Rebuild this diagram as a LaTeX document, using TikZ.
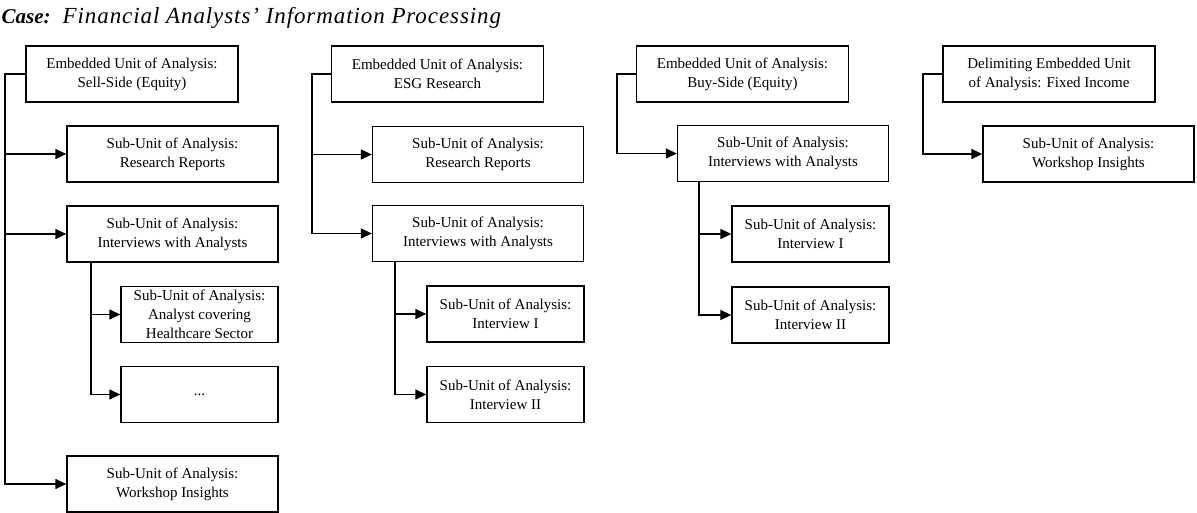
\documentclass[tikz,border=0pt]{standalone}
\usepackage{fontspec}
\setmainfont{Liberation Serif}
\usetikzlibrary{arrows.meta}
\begin{document}
\begin{tikzpicture}[x=1pt, y=-1pt, line width=1.3pt,
  unit/.style = {draw, rectangle, minimum width=212pt, minimum height=56pt, align=center, font=\fontsize{15}{19}\selectfont},
  sub/.style = {unit, minimum width=211pt},
  leaf/.style = {unit, minimum width=157pt},
  arr/.style = {-{Triangle[length=11pt, width=10pt]}}]
  \useasboundingbox (0,0) rectangle (1197,513);
  \node[anchor=base west, inner sep=0pt, font=\itshape] (title) at (1,24) {{\fontsize{21}{24}\selectfont\bfseries Case:}\hspace{12pt}{\fontsize{23}{26}\selectfont\addfontfeatures{LetterSpace=4}Financial Analysts’ Information Processing}};
  % sell-side
  \node[unit] (ss) at (132,74) {Embedded Unit of Analysis:\\Sell-Side (Equity)};
  \node[sub] (ss-rr) at (172.5,154) {Sub-Unit of Analysis:\\Research Reports};
  \node[sub] (ss-iv) at (172.5,234) {Sub-Unit of Analysis:\\Interviews with Analysts};
  \node[leaf] (ss-hc) at (199.5,314.5) {Sub-Unit of Analysis:\\Analyst covering\\Healthcare Sector};
  \node[leaf] (ss-dots) at (199.5,394.5) {...};
  \node[sub] (ss-ws) at (172.5,484) {Sub-Unit of Analysis:\\Workshop Insights};
  \coordinate (ss-t) at (5,0);
  \coordinate (ss-ivt) at (91,0);
  \draw[arr] (ss.west) -- (ss.west -| ss-t) |- (ss-ws.west);
  \draw[arr] (ss-t |- ss-rr.west) -- (ss-rr.west);
  \draw[arr] (ss-t |- ss-iv.west) -- (ss-iv.west);
  \draw[arr] (ss-iv.south -| ss-ivt) |- (ss-dots.west);
  \draw[arr] (ss-ivt |- ss-hc.west) -- (ss-hc.west);
  % esg
  \node[unit] (esg) at (437.5,74) {Embedded Unit of Analysis:\\ESG Research};
  \node[sub] (esg-rr) at (478,154.5) {Sub-Unit of Analysis:\\Research Reports};
  \node[sub] (esg-iv) at (478,233.5) {Sub-Unit of Analysis:\\Interviews with Analysts};
  \node[leaf] (esg-i1) at (505.5,314) {Sub-Unit of Analysis:\\Interview I};
  \node[leaf] (esg-i2) at (505.5,394.5) {Sub-Unit of Analysis:\\Interview II};
  \coordinate (esg-t) at (312,0);
  \coordinate (esg-ivt) at (395,0);
  \draw[arr] (esg.west) -- (esg.west -| esg-t) |- (esg-iv.west);
  \draw[arr] (esg-t |- esg-rr.west) -- (esg-rr.west);
  \draw[arr] (esg-iv.south -| esg-ivt) |- (esg-i2.west);
  \draw[arr] (esg-ivt |- esg-i1.west) -- (esg-i1.west);
  % buy-side
  \node[unit] (bs) at (742.5,74) {Embedded Unit of Analysis:\\Buy-Side (Equity)};
  \node[sub] (bs-iv) at (783,153.5) {Sub-Unit of Analysis:\\Interviews with Analysts};
  \node[leaf] (bs-i1) at (810.5,234) {Sub-Unit of Analysis:\\Interview I};
  \node[leaf] (bs-i2) at (810.5,315) {Sub-Unit of Analysis:\\Interview II};
  \coordinate (bs-t) at (617,0);
  \coordinate (bs-ivt) at (699,0);
  \draw[arr] (bs.west) -- (bs.west -| bs-t) |- (bs-iv.west);
  \draw[arr] (bs-iv.south -| bs-ivt) |- (bs-i2.west);
  \draw[arr] (bs-ivt |- bs-i1.west) -- (bs-i1.west);
  % fixed income
  \node[unit] (fi) at (1049,74) {Delimiting Embedded Unit\\of Analysis: Fixed Income};
  \node[sub] (fi-ws) at (1088.5,154) {Sub-Unit of Analysis:\\Workshop Insights};
  \coordinate (fi-t) at (923,0);
  \draw[arr] (fi.west) -- (fi.west -| fi-t) |- (fi-ws.west);
\end{tikzpicture}
\end{document}
